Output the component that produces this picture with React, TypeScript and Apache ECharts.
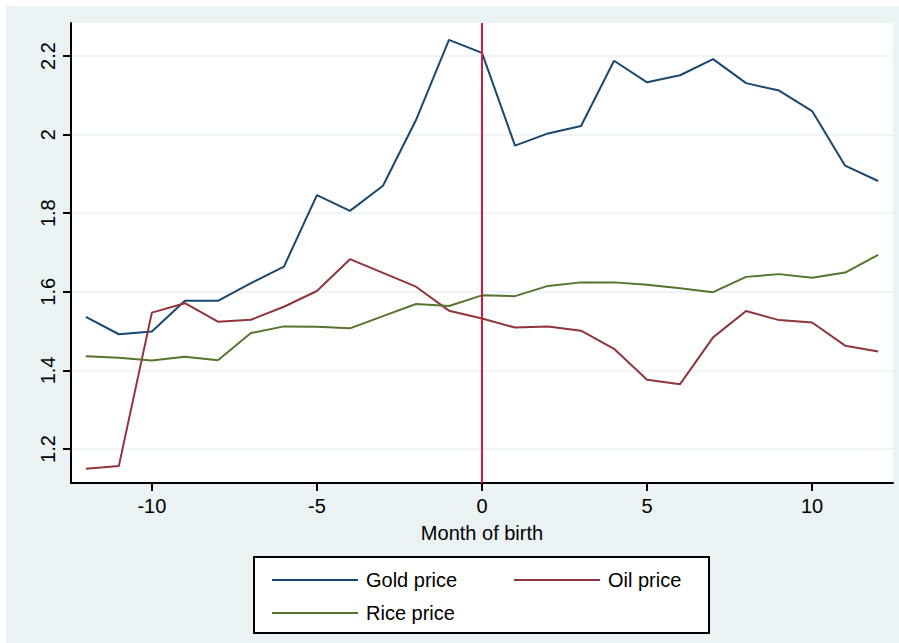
import React, { useEffect, useRef } from "react";
import * as echarts from "echarts";

const months = [-12, -11, -10, -9, -8, -7, -6, -5, -4, -3, -2, -1, 0, 1, 2, 3, 4, 5, 6, 7, 8, 9, 10, 11, 12];
const goldPrice = [1.536, 1.492, 1.499, 1.577, 1.577, 1.622, 1.664, 1.846, 1.806, 1.870, 2.037, 2.241, 2.208, 1.972, 2.003, 2.022, 2.188, 2.133, 2.151, 2.192, 2.131, 2.112, 2.060, 1.921, 1.882];
const oilPrice = [1.150, 1.157, 1.547, 1.571, 1.524, 1.529, 1.562, 1.602, 1.683, 1.648, 1.613, 1.552, 1.532, 1.509, 1.512, 1.501, 1.455, 1.376, 1.365, 1.484, 1.551, 1.528, 1.522, 1.463, 1.448];
const ricePrice = [1.436, 1.432, 1.425, 1.435, 1.426, 1.495, 1.512, 1.511, 1.507, 1.538, 1.569, 1.564, 1.591, 1.589, 1.615, 1.624, 1.624, 1.618, 1.609, 1.599, 1.638, 1.645, 1.636, 1.649, 1.694];
const xTicks = [-10, -5, 0, 5, 10];
const yTicks = [1.2, 1.4, 1.6, 1.8, 2, 2.2];
const seriesNames = ["Gold price", "Oil price", "Rice price"];
const seriesColors = ["#1a476f", "#90353b", "#55752f"];
const eventMonth = 0;
const xTitle = "Month of birth";

const FONT = "'Liberation Sans', Arial, Helvetica, sans-serif";

export default function App() {
  const ref = useRef<HTMLDivElement>(null);
  useEffect(() => {
    if (!ref.current) return;
    const chart = echarts.init(ref.current, undefined, { renderer: "svg" });
    const allSeries = [goldPrice, oilPrice, ricePrice];
    const legendCommon = {
      orient: "vertical",
      top: 565,
      icon: "rect",
      itemWidth: 86,
      itemHeight: 2,
      itemGap: 13,
      selectedMode: false,
      textStyle: { color: "#000", fontSize: 20, lineHeight: 20, fontFamily: FONT, padding: [0, 0, 0, 3] },
      z: 5,
    };
    chart.setOption({
      animation: false,
      backgroundColor: "#ffffff",
      textStyle: { fontFamily: FONT },
      graphic: [
        {
          type: "rect",
          z: -10,
          silent: true,
          shape: { x: 6, y: 6, width: 893, height: 637 },
          style: { fill: "#EAF2F3" },
        },
        {
          type: "rect",
          z: -9,
          silent: true,
          shape: { x: 71, y: 23, width: 822, height: 460 },
          style: { fill: "#ffffff" },
        },
        {
          type: "rect",
          z: 1,
          silent: true,
          shape: { x: 254, y: 557, width: 455, height: 76 },
          style: { fill: "#ffffff", stroke: "#000000", lineWidth: 2 },
        },
      ],
      grid: { left: 71, top: 23, right: 6, bottom: 160, containLabel: false },
      xAxis: {
        type: "value",
        min: -12.45,
        max: 12.45,
        name: xTitle,
        nameLocation: "middle",
        nameGap: 40,
        nameTextStyle: { color: "#000", fontSize: 20, fontFamily: FONT },
        axisLine: { show: true, onZero: false, lineStyle: { color: "#000", width: 2 } },
        axisTick: { show: true, length: 8, customValues: xTicks, lineStyle: { color: "#000", width: 2 } },
        axisLabel: { customValues: xTicks, margin: 13, color: "#000", fontSize: 20, fontFamily: FONT },
        splitLine: { show: false },
      },
      yAxis: {
        type: "value",
        min: 1.1135,
        max: 2.284,
        axisLine: { show: true, onZero: false, lineStyle: { color: "#000", width: 2 } },
        axisTick: { show: true, length: 8, customValues: yTicks, lineStyle: { color: "#000", width: 2 } },
        axisLabel: {
          customValues: yTicks,
          rotate: 90,
          margin: 13,
          color: "#000",
          fontSize: 20,
          fontFamily: FONT,
          formatter: (v: number) => String(Math.round(v * 10) / 10),
        },
        splitLine: { show: true, lineStyle: { color: "#EAF2F3", width: 1.5 } },
      },
      legend: [
        { ...legendCommon, data: [seriesNames[0], seriesNames[2]], left: 267 },
        { ...legendCommon, data: [seriesNames[1]], left: 509 },
      ],
      series: [
        ...allSeries.map((vals, i) => ({
          type: "line",
          name: seriesNames[i],
          data: months.map((m, j) => [m, vals[j]]),
          symbol: "none",
          showSymbol: false,
          color: seriesColors[i],
          lineStyle: { color: seriesColors[i], width: 2 },
          z: 3,
        })),
        {
          type: "line",
          name: "event",
          data: [],
          silent: true,
          z: 4,
          markLine: {
            silent: true,
            symbol: ["none", "none"],
            label: { show: false },
            lineStyle: { color: "#D7193F", width: 2, type: "solid" },
            data: [{ xAxis: eventMonth }],
          },
        },
      ],
    });
    return () => chart.dispose();
  }, []);
  return <div ref={ref} style={{ position: "fixed", left: 0, top: 0, width: 899, height: 643 }} />;
}
